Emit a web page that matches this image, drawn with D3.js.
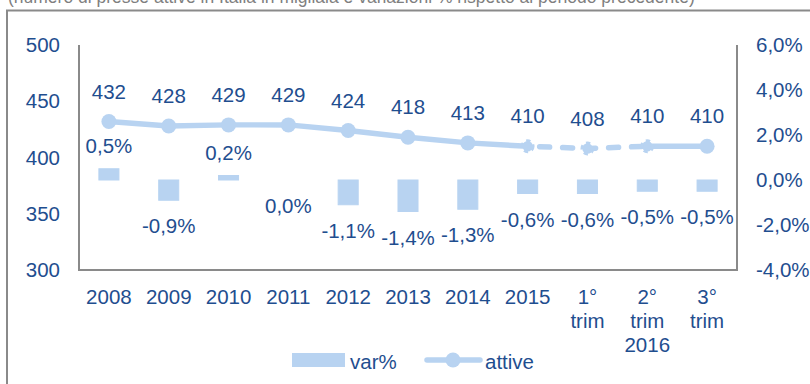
<!DOCTYPE html>
<html>
<head>
<meta charset="utf-8">
<script src="https://cdn.jsdelivr.net/npm/d3@7"></script>
<style>
  html, body { margin: 0; padding: 0; background: #fff; }
  svg { display: block; }
  text { font-family: "Liberation Sans", Arial, sans-serif; }
</style>
</head>
<body>
<svg id="chart" width="810" height="384"></svg>
<script>
// Presse attive (migliaia) e variazione % sul periodo precedente
const categories = ["2008", "2009", "2010", "2011", "2012", "2013", "2014", "2015", "1°\ntrim", "2°\ntrim\n2016", "3°\ntrim"];
const attive = [432, 428, 429, 429, 424, 418, 413, 410, 408, 410, 410];
const varPct = [0.5, -0.9, 0.2, 0.0, -1.1, -1.4, -1.3, -0.6, -0.6, -0.5, -0.5];
const leftTicks = [300, 350, 400, 450, 500];
const rightTicks = [-4, -2, 0, 2, 4, 6];
const subtitle = "(numero di presse attive in Italia in migliaia e variazioni % rispetto al periodo precedente)";

const BLUE_TEXT = "#1F4E8F";
const LIGHT = "#B8D3F1";
const GREY = "#8A8A8A";
const FS = 20.5;

const svg = d3.select("#chart");

// subtitle, running above the top edge
svg.append("text")
  .attr("x", 8).attr("y", 2.5)
  .attr("font-size", 17.5)
  .attr("fill", "#7F7F7F")
  .text(subtitle);

// outer frame
svg.append("path")
  .attr("d", "M7,400 V10.5 H820")
  .attr("fill", "none")
  .attr("stroke", GREY)
  .attr("stroke-width", 2);

const plot = { left: 79, right: 737, top: 45, bottom: 270 };

const x = d3.scaleBand().domain(d3.range(categories.length)).range([plot.left, plot.right]);
const yL = d3.scaleLinear().domain([300, 500]).range([plot.bottom, plot.top]);
const yR = d3.scaleLinear().domain([-4, 6]).range([plot.bottom, plot.top]);
const cx = i => x(i) + x.bandwidth() / 2;
const barW = x.bandwidth() * 0.335;
const fmtPct = v => v.toFixed(1).replace(".", ",") + "%";

// axis lines (left, bottom, right)
svg.append("path")
  .attr("d", `M${plot.left},${plot.top} V${plot.bottom} H${plot.right} V${plot.top}`)
  .attr("fill", "none")
  .attr("stroke", GREY)
  .attr("stroke-width", 2);

// left axis labels
svg.append("g").selectAll("text").data(leftTicks).join("text")
  .attr("x", 60).attr("y", d => yL(d) + 7)
  .attr("text-anchor", "end")
  .attr("font-size", FS)
  .attr("fill", BLUE_TEXT)
  .text(d => d);

// right axis labels
svg.append("g").selectAll("text").data(rightTicks).join("text")
  .attr("x", 756).attr("y", d => yR(d) + 7)
  .attr("text-anchor", "start")
  .attr("font-size", FS)
  .attr("fill", BLUE_TEXT)
  .text(d => fmtPct(d));

// category labels (multi-line)
const xl = svg.append("g").selectAll("text").data(categories).join("text")
  .attr("text-anchor", "middle")
  .attr("font-size", FS)
  .attr("fill", BLUE_TEXT);
xl.each(function (d, i) {
  d3.select(this).selectAll("tspan").data(d.split("\n")).join("tspan")
    .attr("x", cx(i))
    .attr("y", (s, k) => 304 + k * 23.8)
    .text(s => s);
});

// bars: var%
svg.append("g").selectAll("rect").data(varPct).join("rect")
  .attr("x", (d, i) => cx(i) - barW / 2)
  .attr("width", barW)
  .attr("y", d => Math.min(yR(d), yR(0)))
  .attr("height", d => Math.abs(yR(d) - yR(0)))
  .attr("fill", LIGHT)
  .attr("stroke", LIGHT)
  .attr("stroke-width", 1);

// bar labels
svg.append("g").selectAll("text").data(varPct).join("text")
  .attr("x", (d, i) => cx(i))
  .attr("y", d => d > 0 ? yR(d) - 16 : yR(d) + 33)
  .attr("text-anchor", "middle")
  .attr("font-size", FS)
  .attr("fill", BLUE_TEXT)
  .text(d => fmtPct(d));

// line: solid through 2015, dashed over 2015 → 2° trim, solid to 3° trim
const pts = attive.map((v, i) => [cx(i), yL(v)]);
const line = d3.line();
const lineG = svg.append("g").attr("fill", "none").attr("stroke", LIGHT).attr("stroke-width", 5.5);
lineG.append("path").attr("d", line(pts.slice(0, 8))).attr("stroke-linejoin", "round");
lineG.append("path").attr("d", line(pts.slice(7, 10)))
  .attr("stroke-dasharray", "10,13")
  .attr("stroke-dashoffset", -12)
  .attr("stroke-linecap", "round");
lineG.append("path").attr("d", line(pts.slice(9, 11)));

// markers
const dashedMarker = i => i >= 7 && i <= 9;
svg.append("g").selectAll("circle").data(pts).join("circle")
  .attr("cx", d => d[0]).attr("cy", d => d[1])
  .attr("r", (d, i) => dashedMarker(i) ? 5.2 : 7.5)
  .attr("fill", LIGHT)
  .attr("stroke", LIGHT)
  .attr("stroke-width", (d, i) => dashedMarker(i) ? 3.5 : 0)
  .attr("stroke-dasharray", (d, i) => dashedMarker(i) ? "4,3.5" : null);

// point labels
svg.append("g").selectAll("text").data(attive).join("text")
  .attr("x", (d, i) => cx(i))
  .attr("y", d => yL(d) - 23)
  .attr("text-anchor", "middle")
  .attr("font-size", FS)
  .attr("fill", BLUE_TEXT)
  .text(d => d);

// legend
const lg = svg.append("g");
lg.append("rect").attr("x", 292).attr("y", 353).attr("width", 53).attr("height", 14).attr("fill", LIGHT);
lg.append("text").attr("x", 350).attr("y", 369).attr("font-size", FS).attr("fill", BLUE_TEXT).text("var%");
lg.append("line").attr("x1", 427).attr("x2", 480).attr("y1", 360).attr("y2", 360)
  .attr("stroke", LIGHT).attr("stroke-width", 5.5).attr("stroke-linecap", "round");
lg.append("circle").attr("cx", 453).attr("cy", 360).attr("r", 7.5).attr("fill", LIGHT);
lg.append("text").attr("x", 485).attr("y", 369).attr("font-size", FS).attr("fill", BLUE_TEXT).text("attive");
</script>
</body>
</html>
